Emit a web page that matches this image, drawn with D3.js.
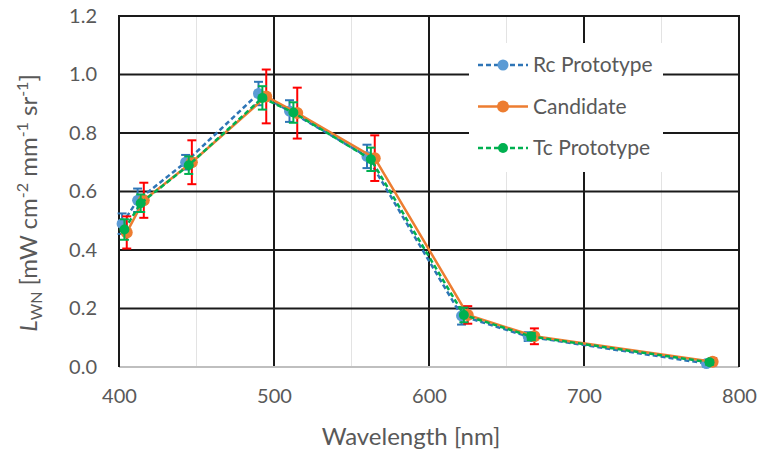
<!DOCTYPE html>
<html><head><meta charset="utf-8">
<script src="https://cdn.jsdelivr.net/npm/d3@7"></script>
<style>body{margin:0;background:#fff}svg{display:block}text{font-family:Lato,"Open Sans",sans-serif;fill:#595959}</style>
</head><body><svg id="c" width="762" height="453"></svg>
<script>
const rcWave = [402, 412, 443, 490, 510, 560, 621, 664, 779];
const rcVals = [0.49, 0.57, 0.70, 0.935, 0.875, 0.72, 0.175, 0.104, 0.012];
const rcErr  = [0.035, 0.04, 0.025, 0.04, 0.037, 0.04, 0.03, 0.015, 0.01];
const candWave = [405, 416, 447, 495, 515, 565, 625, 668, 783];
const candVals = [0.46, 0.57, 0.70, 0.925, 0.868, 0.714, 0.178, 0.105, 0.018];
const candErr  = [0.055, 0.06, 0.075, 0.092, 0.087, 0.078, 0.03, 0.027, 0.012];
const tcWave = [403.5, 414, 445, 492.5, 512.5, 562.5, 622.5, 666, 781];
const tcVals = [0.47, 0.56, 0.69, 0.92, 0.87, 0.71, 0.178, 0.104, 0.016];
const tcErr  = [0.035, 0.03, 0.03, 0.04, 0.035, 0.04, 0.025, 0.012, 0.008];
const xTicks = [400, 500, 600, 700, 800];
const xMinor = [450, 550, 650, 750];
const yTicks = [0, 0.2, 0.4, 0.6, 0.8, 1.0, 1.2];

const svg = d3.select("#c");
const L = 119, R = 739, T = 16, B = 367;
const x = d3.scaleLinear().domain([400, 800]).range([L, R]);
const y = d3.scaleLinear().domain([0, 1.2]).range([B, T]);

svg.append("g").selectAll("line").data(xMinor).join("line")
  .attr("x1", d => x(d)).attr("x2", d => x(d)).attr("y1", T).attr("y2", B)
  .attr("stroke", "#e3e3e3").attr("stroke-width", 1);
svg.append("g").selectAll("line").data(xTicks).join("line")
  .attr("x1", d => x(d)).attr("x2", d => x(d)).attr("y1", T).attr("y2", B)
  .attr("stroke", "#1a1a1a").attr("stroke-width", 2);
svg.append("g").selectAll("line").data(yTicks.filter(d => d > 0)).join("line")
  .attr("x1", L).attr("x2", R).attr("y1", d => y(d)).attr("y2", d => y(d))
  .attr("stroke", "#1a1a1a").attr("stroke-width", 2);
svg.append("line").attr("x1", L).attr("x2", R).attr("y1", B).attr("y2", B)
  .attr("stroke", "#bfbfbf").attr("stroke-width", 2);

const yAxis = d3.axisLeft(y).tickValues(yTicks).tickFormat(d3.format(".1f")).tickSize(0).tickPadding(22);
const gy = svg.append("g").attr("transform", `translate(${L},0)`).call(yAxis);
gy.select(".domain").remove();
gy.selectAll("text").style("font-size", "20px").attr("fill", "#595959").style("font-family", "Lato");
const xAxis = d3.axisBottom(x).tickValues(xTicks).tickFormat(d3.format("d")).tickSize(0).tickPadding(22);
const gx = svg.append("g").attr("transform", `translate(0,${B})`).call(xAxis);
gx.select(".domain").remove();
gx.selectAll("text").style("font-size", "20px").attr("fill", "#595959").style("font-family", "Lato");

svg.append("text").attr("x", (L + R) / 2 - 18).attr("y", 445).attr("text-anchor", "middle")
  .style("font-size", "24px").text("Wavelength [nm]");
const yt = svg.append("text").attr("transform", "translate(37,203) rotate(-90)")
  .attr("text-anchor", "middle").style("font-size", "24px");
yt.append("tspan").style("font-style", "italic").text("L");
yt.append("tspan").attr("dy", 5).style("font-size", "16px").text("WN");
yt.append("tspan").attr("dy", -5).text(" [mW cm");
yt.append("tspan").attr("dy", -9).style("font-size", "16px").text("-2");
yt.append("tspan").attr("dy", 9).text(" mm");
yt.append("tspan").attr("dy", -9).style("font-size", "16px").text("-1");
yt.append("tspan").attr("dy", 9).text(" sr");
yt.append("tspan").attr("dy", -9).style("font-size", "16px").text("-1");
yt.append("tspan").attr("dy", 9).text("]");

svg.append("path").attr("d", `M${L},${B} V${T} H${R} V${B}`).attr("fill", "none")
  .attr("stroke", "#1a1a1a").attr("stroke-width", 2);

const series = [
  {name: "Rc Prototype", wave: rcWave, vals: rcVals, err: rcErr, line: "#2E75B6", mark: "#5B9BD5", ebar: "#2E75B6", dash: "5,3", r: 5.5},
  {name: "Candidate", wave: candWave, vals: candVals, err: candErr, line: "#ED7D31", mark: "#ED7D31", ebar: "#FF0000", dash: null, r: 6},
  {name: "Tc Prototype", wave: tcWave, vals: tcVals, err: tcErr, line: "#00B050", mark: "#00B050", ebar: "#00B050", dash: "5,3", r: 5}
];
const lineGen = d3.line().x(d => x(d[0])).y(d => y(d[1]));

series.forEach(s => {
  const pts = s.wave.map((w, i) => [w, s.vals[i], s.err[i]]);
  const g = svg.append("g");
  g.append("path").datum(pts).attr("d", lineGen).attr("fill", "none")
    .attr("stroke", s.line).attr("stroke-width", 2.5).attr("stroke-dasharray", s.dash);
  const eb = g.append("g").selectAll("g").data(pts).join("g").attr("stroke", s.ebar).attr("stroke-width", 2);
  eb.append("line").attr("x1", d => x(d[0])).attr("x2", d => x(d[0]))
    .attr("y1", d => y(d[1] - d[2])).attr("y2", d => y(d[1] + d[2]));
  eb.append("line").attr("x1", d => x(d[0]) - 4.5).attr("x2", d => x(d[0]) + 4.5)
    .attr("y1", d => y(d[1] - d[2])).attr("y2", d => y(d[1] - d[2]));
  eb.append("line").attr("x1", d => x(d[0]) - 4.5).attr("x2", d => x(d[0]) + 4.5)
    .attr("y1", d => y(d[1] + d[2])).attr("y2", d => y(d[1] + d[2]));
  g.append("g").selectAll("circle").data(pts).join("circle")
    .attr("cx", d => x(d[0])).attr("cy", d => y(d[1])).attr("r", s.r).attr("fill", s.mark);
});

const lg = svg.append("g");
lg.append("rect").attr("x", 469).attr("y", 43).attr("width", 194).attr("height", 129).attr("fill", "#fff");
series.forEach((s, i) => {
  const yy = 65 + i * 41.5;
  lg.append("line").attr("x1", 478).attr("x2", 528).attr("y1", yy).attr("y2", yy)
    .attr("stroke", s.line).attr("stroke-width", 2.5).attr("stroke-dasharray", s.dash);
  lg.append("circle").attr("cx", 503).attr("cy", yy).attr("r", s.r).attr("fill", s.mark);
  lg.append("text").attr("x", 533).attr("y", yy).attr("dy", "0.35em").style("font-size", "21px").text(s.name);
});
</script></body></html>
